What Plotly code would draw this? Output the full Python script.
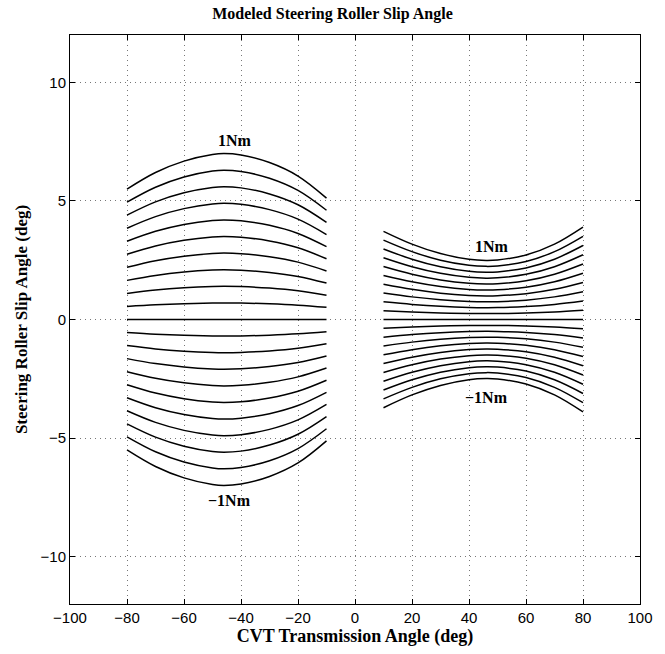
import plotly.graph_objects as go

# Torque levels (Nm) for the family of curves, -1 .. 1
torque_levels = [-1.0, -0.9, -0.8, -0.7, -0.6, -0.5, -0.4, -0.3, -0.2, -0.1, 0.0,
                 0.1, 0.2, 0.3, 0.4, 0.5, 0.6, 0.7, 0.8, 0.9, 1.0]

# Left group (negative CVT angle): slip angle of the 1 Nm curve
left_x = [-80, -70, -60, -50, -46, -40, -30, -20, -10]
left_1nm = [5.5, 6.2, 6.68, 6.96, 7.0, 6.94, 6.62, 6.05, 5.12]

# Right group (positive CVT angle): slip angle of the 1 Nm curve
right_x = [10, 20, 30, 40, 46, 50, 60, 70, 80]
right_1nm = [3.72, 3.18, 2.78, 2.54, 2.49, 2.51, 2.72, 3.18, 3.9]

x_ticks = [-100, -80, -60, -40, -20, 0, 20, 40, 60, 80, 100]
y_ticks = [-10, -5, 0, 5, 10]

fig = go.Figure()
for xs, prof in ((left_x, left_1nm), (right_x, right_1nm)):
    for t in torque_levels:
        fig.add_trace(go.Scatter(
            x=xs, y=[t * v for v in prof], mode="lines",
            line=dict(color="black", width=1.5, shape="spline", smoothing=1.0),
            showlegend=False, hoverinfo="skip"))

serif = "Liberation Serif, Times New Roman, serif"
ann = dict(showarrow=False, font=dict(family=serif, size=16, color="black"))
fig.add_annotation(x=-42, y=7.55, text="<b>1Nm</b>", **ann)
fig.add_annotation(x=-44, y=-7.65, text="<b>−1Nm</b>", **ann)
fig.add_annotation(x=48, y=3.1, text="<b>1Nm</b>", **ann)
fig.add_annotation(x=46, y=-3.3, text="<b>−1Nm</b>", **ann)

axis_common = dict(
    showgrid=True, gridcolor="#777777", griddash="1px,4px", gridwidth=1,
    zeroline=False, showline=True, linecolor="black", linewidth=1, mirror="ticks",
    ticks="inside", ticklen=5, tickcolor="black",
    tickfont=dict(family="Liberation Sans, Arial, sans-serif", size=15, color="black"),
)

fig.update_layout(
    width=665, height=654,
    margin=dict(l=70, r=25, t=35, b=46),
    paper_bgcolor="white", plot_bgcolor="white",
    title=dict(text="<b>Modeled Steering Roller Slip Angle</b>", x=0.5, xanchor="center",
               y=1 - 13 / 654, yanchor="middle",
               font=dict(family=serif, size=16, color="black")),
    xaxis=dict(range=[-100, 100], tickvals=x_ticks,
               title=dict(text="<b>CVT Transmission Angle (deg)</b>", standoff=3,
                          font=dict(family=serif, size=18, color="black")),
               **axis_common),
    yaxis=dict(range=[-12, 12], tickvals=y_ticks,
               title=dict(text="<b>Steering Roller Slip Angle (deg)</b>", standoff=8,
                          font=dict(family=serif, size=17, color="black")),
               **axis_common),
)

fig.write_html("out.html")
